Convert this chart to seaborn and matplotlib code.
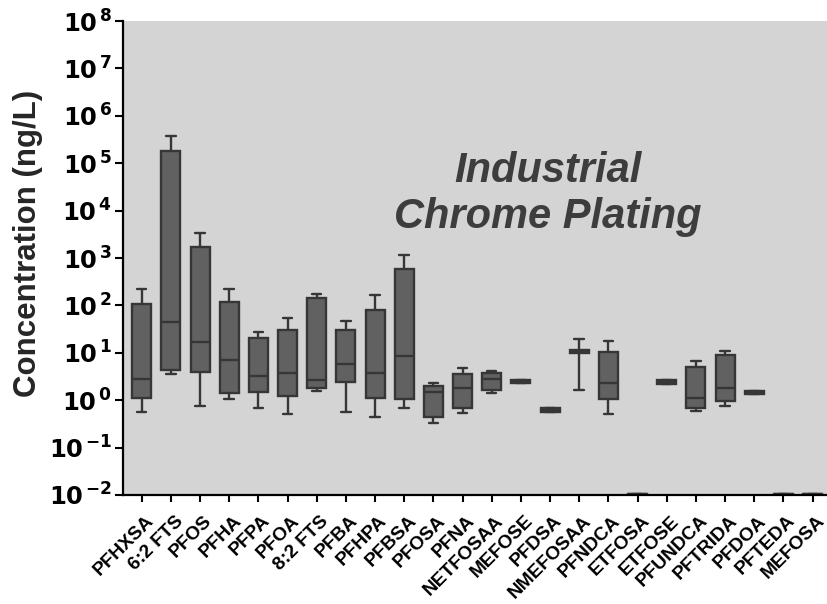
import math
import pandas as pd
import seaborn as sns
import matplotlib.pyplot as plt
from matplotlib.ticker import FixedLocator, FuncFormatter, NullLocator
from matplotlib.transforms import ScaledTranslation

# PFAS compounds, industrial chrome plating site
compounds = ['PFHXSA', '6:2 FTS', 'PFOS', 'PFHA', 'PFPA', 'PFOA', '8:2 FTS', 'PFBA',
             'PFHPA', 'PFBSA', 'PFOSA', 'PFNA', 'NETFOSAA', 'MEFOSE', 'PFDSA',
             'NMEFOSAA', 'PFNDCA', 'ETFOSA', 'ETFOSE', 'PFUNDCA', 'PFTRIDA', 'PFDOA',
             'PFTEDA', 'MEFOSA']

# five-number summaries (ng/L)
whisker_low = [0.57, 3.6, 0.74, 1.07, 0.7, 0.5, 1.56, 0.57, 0.45, 0.69, 0.33, 0.54,
               1.42, 2.3, 0.57, 1.66, 0.52, 0.0101, 2.25, 0.59, 0.77, 1.33, 0.0101, 0.0101]
q1 = [1.1, 4.3, 3.9, 1.42, 1.5, 1.24, 1.8, 2.4, 1.13, 1.07, 0.44, 0.69,
      1.66, 2.3, 0.57, 9.7, 1.06, 0.0101, 2.25, 0.67, 0.94, 1.33, 0.0101, 0.0101]
median = [2.8, 45, 17, 7.0, 3.3, 3.7, 2.7, 5.9, 3.8, 8.7, 1.5, 1.77,
          2.84, 2.5, 0.63, 10.5, 2.3, 0.0104, 2.45, 1.09, 1.81, 1.46, 0.0104, 0.0104]
q3 = [108, 1.8e5, 1710, 116, 21, 31, 144, 31, 81, 585, 1.96, 3.6,
      3.7, 2.7, 0.68, 11.3, 10.2, 0.0107, 2.65, 5.0, 9.1, 1.58, 0.0107, 0.0107]
whisker_high = [225, 3.7e5, 3380, 225, 28, 53, 177, 48, 162, 1170, 2.26, 4.8,
                4.2, 2.7, 0.68, 19.5, 17.4, 0.0107, 2.65, 6.6, 10.7, 1.58, 0.0107, 0.0107]

# long format: 5 points per compound -> quartiles land exactly on them
rows = []
for i, c in enumerate(compounds):
    for v in (whisker_low[i], q1[i], median[i], q3[i], whisker_high[i]):
        rows.append({'compound': c, 'conc': v})
df = pd.DataFrame(rows)


def decade_label(v, pos):
    k = round(math.log10(v))
    return r'$\mathbf{10}^{\,\mathbf{%d}}$' % k


sns.set_style('ticks')
plt.rcParams['font.family'] = ['Liberation Sans', 'DejaVu Sans']
plt.rcParams['mathtext.fontset'] = 'dejavusans'

fig = plt.figure(figsize=(8.28, 6.04), dpi=100)
ax = fig.add_axes([123 / 828, 109 / 604, 705 / 828, 474 / 604])
ax.set_facecolor('#d4d4d4')

sns.boxplot(data=df, x='compound', y='conc', whis=(0, 100), width=0.65,
            color='#616161', saturation=1, linecolor='#363636', linewidth=1.7,
            log_scale=True, ax=ax)

ax.set_ylim(1e-2, 1e8)
ax.set_xlim(-0.641, 23.53)
ax.yaxis.set_major_locator(FixedLocator([10.0 ** k for k in range(-2, 9)]))
ax.yaxis.set_minor_locator(NullLocator())
ax.yaxis.set_major_formatter(FuncFormatter(decade_label))

for s in ['top', 'right']:
    ax.spines[s].set_visible(False)
for s in ['left', 'bottom']:
    ax.spines[s].set_color('black')
    ax.spines[s].set_linewidth(1.6)

ax.tick_params(axis='y', length=5.8, width=1.5, pad=2, labelsize=17.5, colors='black')
ax.tick_params(axis='x', length=5, width=1.5, pad=7.5, labelsize=13.8, colors='black')
shift = ScaledTranslation(3.5 / 100, 0, fig.dpi_scale_trans)
for lab in ax.get_xticklabels():
    lab.set(rotation=45, ha='right', va='top', rotation_mode='anchor', fontweight='bold')
    lab.set_transform(lab.get_transform() + shift)

ax.set_xlabel('')
ax.set_ylabel('Concentration (ng/L)', fontsize=22.5, fontweight='bold')
ax.yaxis.set_label_coords(-0.1135, 0.53)

ax.text(13.93, 0.635, 'Industrial\nChrome Plating', transform=ax.get_xaxis_transform(),
        fontsize=30, fontweight='bold', style='italic', color='#3d3d3d',
        ha='center', va='center', linespacing=1.2)

fig.savefig('out.png', dpi=100)
